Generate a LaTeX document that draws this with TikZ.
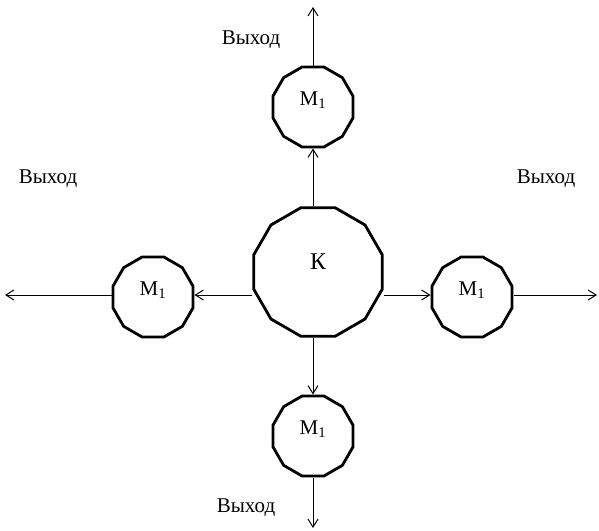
\documentclass[tikz,border=0pt]{standalone}
\usepackage{fontspec}
\setmainfont{Liberation Serif}
\usetikzlibrary{shapes.geometric,arrows.meta}
\begin{document}
\begin{tikzpicture}[x=1pt,y=-1pt,
  poly/.style={draw,regular polygon,regular polygon sides=12,inner sep=0pt,line width=2.8pt,fill=white},
  mbox/.style={poly,minimum size=83pt,label={[mfont]center:М\textsubscript{1}}},
  kbox/.style={poly,minimum size=133pt,label={[kfont]center:К}},
  mfont/.style={font=\fontsize{21}{24}\selectfont,inner sep=0pt,yshift=7pt},
  kfont/.style={font=\fontsize{24}{28}\selectfont,inner sep=0pt,yshift=10pt},
  conn/.style={line width=1pt,-{Straight Barb[length=8pt,width=10pt]}},
  lbl/.style={font=\fontsize{21}{24}\selectfont,inner sep=0pt}]
\useasboundingbox (0,0) rectangle (599,530);
\node[kbox] (K) at (318,272) {};
\node[mbox] (Mt) at (313,107) {};
\node[mbox] (Mb) at (313,436) {};
\node[mbox] (Ml) at (153,297) {};
\node[mbox] (Mr) at (472,297) {};
\coordinate (Et) at (313,7);
\coordinate (Eb) at (313,528);
\coordinate (El) at (5,295);
\coordinate (Er) at (597,295);
\draw[conn] (K.north -| Mt) -- (Mt.south);
\draw[conn] (K.south -| Mb) -- (Mb.north);
\draw[conn] (K.west |- El) -- (Ml.east |- El);
\draw[conn] (K.east |- Er) -- (Mr.west |- Er);
\draw[conn] (Mt.north) -- (Et);
\draw[conn] (Mb.south) -- (Eb);
\draw[conn] (Ml.west |- El) -- (El);
\draw[conn] (Mr.east |- Er) -- (Er);
\node[lbl] (Lt) at (251,40) {Выход};
\node[lbl] (Ll) at (48,179) {Выход};
\node[lbl] (Lr) at (546,179) {Выход};
\node[lbl] (Lb) at (246,508) {Выход};
\end{tikzpicture}
\end{document}
